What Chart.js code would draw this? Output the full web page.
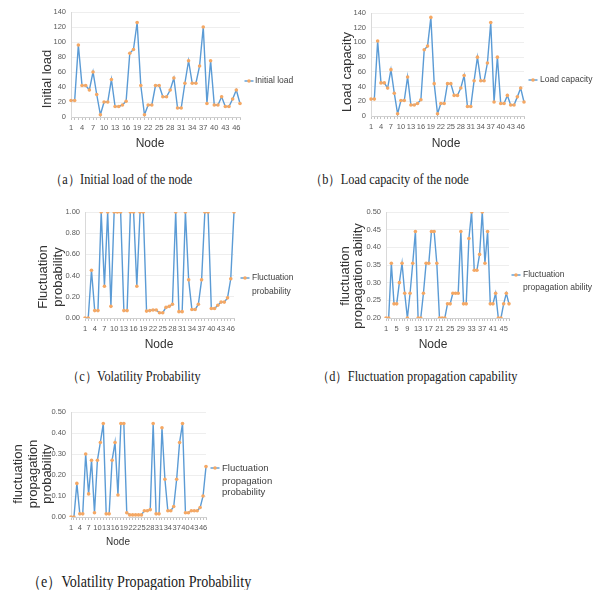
<!DOCTYPE html>
<html>
<head>
<meta charset="utf-8">
<script src="https://cdn.jsdelivr.net/npm/chart.js@4.4.1/dist/chart.umd.min.js"></script>
<style>
    body { margin: 0; background: #fff; width: 603px; height: 590px; position: relative; overflow: hidden; }
    canvas { position: absolute; }
    .cap {
        position: absolute;
        font-family: "Liberation Serif", "Times New Roman", serif;
        color: #1a1a1a;
        white-space: nowrap;
        line-height: 1;
        transform-origin: 0 50%;
        transform: scaleX(0.88);
    }
</style>
</head>
<body>
<canvas id="chartA" width="300" height="155" style="left:0;top:0"></canvas>
<canvas id="chartB" width="303" height="155" style="left:300px;top:0"></canvas>
<canvas id="chartC" width="300" height="160" style="left:0;top:195px"></canvas>
<canvas id="chartD" width="303" height="160" style="left:300px;top:195px"></canvas>
<canvas id="chartE" width="300" height="155" style="left:0;top:395px"></canvas>

<div class="cap" style="left:50px;top:173px;font-size:14px">（a）Initial load of the node</div>
<div class="cap" style="left:310px;top:173px;font-size:14px">（b）Load capacity of the node</div>
<div class="cap" style="left:67px;top:370px;font-size:14px">（c）Volatility Probability</div>
<div class="cap" style="left:317px;top:370px;font-size:14px">（d）Fluctuation propagation capability</div>
<div class="cap" style="left:27px;top:574px;font-size:16px">（e）Volatility Propagation Probability</div>

<script>
const nodes = [1, 2, 3, 4, 5, 6, 7, 8, 9, 10, 11, 12, 13, 14, 15, 16, 17, 18, 19, 20,
    21, 22, 23, 24, 25, 26, 27, 28, 29, 30, 31, 32, 33, 34, 35, 36, 37, 38, 39, 40,
    41, 42, 43, 44, 45, 46, 47];

const initialLoad = [22, 22, 96, 42, 42, 36, 60, 30, 3, 20,
    20, 50, 14, 14, 16, 21, 85, 90, 126, 42,
    3, 16, 16, 42, 42, 27, 27, 36, 52, 12,
    12, 45, 75, 45, 45, 68, 120, 18, 75, 16,
    16, 27, 14, 14, 24, 36, 18];

const loadCapacity = [23, 23, 102, 45, 45, 38, 63, 31, 3, 21,
    21, 53, 15, 15, 17, 22, 90, 95, 134, 44,
    3, 17, 17, 44, 44, 28, 28, 38, 55, 13,
    13, 48, 80, 48, 48, 72, 127, 19, 80, 17,
    17, 28, 15, 15, 26, 38, 19];

const fluctProb = [0, 0, 0.45, 0.07, 0.07, 1, 0.30, 1, 0.11, 1,
    1, 1, 0.07, 0.07, 1, 1, 0.30, 1, 1, 0.065,
    0.07, 0.075, 0.075, 0.05, 0.05, 0.10, 0.11, 0.13, 1, 0.06,
    0.06, 1, 0.36, 0.08, 0.08, 0.13, 0.36, 1, 1, 0.09,
    0.09, 0.12, 0.15, 0.15, 0.19, 0.37, 1];

const fluctPropAbility = [0.20, 0.20, 0.355, 0.24, 0.24, 0.30, 0.355, 0.27, 0.20, 0.27,
    0.355, 0.445, 0.20, 0.20, 0.27, 0.355, 0.355, 0.445, 0.445, 0.355,
    0.20, 0.20, 0.20, 0.24, 0.24, 0.27, 0.27, 0.27, 0.445, 0.24,
    0.24, 0.425, 0.50, 0.335, 0.335, 0.38, 0.50, 0.355, 0.445, 0.24,
    0.24, 0.27, 0.20, 0.20, 0.24, 0.27, 0.24];

const fluctPropProb = [0, 0, 0.16, 0.015, 0.015, 0.30, 0.11, 0.27, 0.02, 0.27,
    0.355, 0.445, 0.015, 0.015, 0.27, 0.355, 0.105, 0.445, 0.445, 0.02,
    0.01, 0.01, 0.01, 0.01, 0.01, 0.03, 0.03, 0.035, 0.445, 0.015,
    0.015, 0.425, 0.18, 0.03, 0.03, 0.05, 0.18, 0.355, 0.445, 0.02,
    0.02, 0.03, 0.03, 0.03, 0.045, 0.10, 0.24];

// tick labels
const xEvery3 = [1, 4, 7, 10, 13, 16, 19, 22, 25, 28, 31, 34, 37, 40, 43, 46];
const xEvery4 = [1, 5, 9, 13, 17, 21, 25, 29, 33, 37, 41, 45];
const yTicksLoad = [0, 20, 40, 60, 80, 100, 120, 140];
const yTicksProb = [0, 0.2, 0.4, 0.6, 0.8, 1.0];
const yTicksAbility = [0.20, 0.25, 0.30, 0.35, 0.40, 0.45, 0.50];
const yTicksPropProb = [0, 0.05, 0.10, 0.15, 0.20, 0.25, 0.30, 0.35, 0.40, 0.45, 0.50];

const SANS = '"Liberation Sans", Arial, sans-serif';
const LINE = "#5b9bd5";
const DOT = "#f5a864";
const TICK = "#595959";
const TITLE = "#333333";

// axis titles + legend, drawn at fixed spots like the Excel original
const notesPlugin = {
    id: "notes",
    afterDraw(chart, args, o) {
        const ctx = chart.ctx;
        ctx.save();
        ctx.fillStyle = TITLE;
        ctx.textAlign = "center";
        ctx.textBaseline = "middle";

        ctx.font = o.yTitle.size + "px " + SANS;
        o.yTitle.lines.forEach((t, i) => {
            ctx.save();
            ctx.translate(o.yTitle.x[i], o.yTitle.y);
            ctx.rotate(-Math.PI / 2);
            ctx.fillText(t, 0, 0);
            ctx.restore();
        });

        ctx.font = o.xTitle.size + "px " + SANS;
        ctx.fillText("Node", o.xTitle.x, o.xTitle.y);

        const lg = o.legend;
        ctx.strokeStyle = LINE;
        ctx.lineWidth = 1.4;
        ctx.beginPath();
        ctx.moveTo(lg.x - 4.5, lg.y[0]);
        ctx.lineTo(lg.x + 4.5, lg.y[0]);
        ctx.stroke();
        ctx.fillStyle = DOT;
        ctx.beginPath();
        ctx.arc(lg.x, lg.y[0], 1.8, 0, Math.PI * 2);
        ctx.fill();

        ctx.fillStyle = "#404040";
        ctx.textAlign = "left";
        ctx.font = lg.size + "px " + SANS;
        lg.lines.forEach((t, i) => ctx.fillText(t, lg.tx, lg.y[i]));
        ctx.restore();
    }
};

function drawChart(id, values, yTicks, digits, xShown, box, notes) {
    new Chart(document.getElementById(id), {
        type: "line",
        data: {
            labels: nodes,
            datasets: [{
                data: values,
                borderColor: LINE,
                borderWidth: 1.4,
                pointRadius: 1.8,
                pointBackgroundColor: DOT,
                pointBorderWidth: 0,
                tension: 0
            }]
        },
        options: {
            responsive: false,
            animation: false,
            layout: { padding: box.pad },
            plugins: {
                legend: { display: false },
                tooltip: { enabled: false },
                notes: notes
            },
            scales: {
                x: {
                    offset: false,
                    grid: { drawOnChartArea: false, tickLength: 3, color: "#c4c4c4" },
                    border: { color: "#d0d0d0" },
                    ticks: {
                        autoSkip: false,
                        maxRotation: 0,
                        minRotation: 0,
                        padding: 3,
                        color: TICK,
                        font: { size: 7.5, family: SANS },
                        callback: (v, i) => xShown.includes(nodes[i]) ? String(nodes[i]) : ""
                    },
                    afterFit: s => { s.height = box.xH; s.paddingLeft = 0; s.paddingRight = 0; }
                },
                y: {
                    min: yTicks[0],
                    max: yTicks[yTicks.length - 1],
                    afterBuildTicks: s => { s.ticks = yTicks.map(v => ({ value: v })); },
                    grid: { color: "#eeeeee", drawTicks: false },
                    border: { color: "#d9d9d9" },
                    ticks: {
                        padding: 5,
                        color: TICK,
                        font: { size: 7.5, family: SANS },
                        callback: v => Number(v).toFixed(digits)
                    },
                    afterFit: s => { s.width = box.yW; s.paddingTop = 0; s.paddingBottom = 0; }
                }
            }
        },
        plugins: [notesPlugin]
    });
}

drawChart("chartA", initialLoad, yTicksLoad, 0, xEvery3,
    { pad: { left: 20, right: 60, top: 12, bottom: 18 }, yW: 51, xH: 20 },
    { yTitle: { lines: ["Initial load"], x: [47], y: 79, size: 13 },
      xTitle: { x: 150, y: 144, size: 12 },
      legend: { lines: ["Initial load"], x: 249, tx: 255, y: [81], size: 8.5 } });

drawChart("chartB", loadCapacity, yTicksLoad, 0, xEvery3,
    { pad: { left: 20, right: 79, top: 13, bottom: 19 }, yW: 51, xH: 20 },
    { yTitle: { lines: ["Load capacity"], x: [47], y: 72, size: 13 },
      xTitle: { x: 146, y: 144, size: 12 },
      legend: { lines: ["Load capacity"], x: 233, tx: 240, y: [80], size: 8.5 } });

drawChart("chartC", fluctProb, yTicksProb, 2, xEvery3,
    { pad: { left: 20, right: 66, top: 17, bottom: 17 }, yW: 65, xH: 20 },
    { yTitle: { lines: ["Fluctuation", "probability"], x: [43, 58], y: 82, size: 13 },
      xTitle: { x: 159, y: 150, size: 12 },
      legend: { lines: ["Fluctuation", "probability"], x: 245, tx: 252, y: [83, 97], size: 8.5 } });

drawChart("chartD", fluctPropAbility, yTicksAbility, 2, xEvery4,
    { pad: { left: 20, right: 94, top: 17, bottom: 17 }, yW: 66, xH: 20 },
    { yTitle: { lines: ["fluctuation", "propagation ability"], x: [45, 58], y: 81, size: 13 },
      xTitle: { x: 133, y: 150, size: 12 },
      legend: { lines: ["Fluctuation", "propagation ability"], x: 216, tx: 223, y: [80, 93], size: 8.5 } });

drawChart("chartE", fluctPropProb, yTicksPropProb, 2, xEvery3,
    { pad: { left: 8, right: 94, top: 17, bottom: 17 }, yW: 63, xH: 16 },
    { yTitle: { lines: ["fluctuation", "propagation", "probability"], x: [18, 33, 47], y: 79, size: 13 },
      xTitle: { x: 118, y: 147, size: 10 },
      legend: { lines: ["Fluctuation", "propagation", "probability"], x: 215, tx: 222, y: [73, 86, 97], size: 9.5 } });
</script>
</body>
</html>
